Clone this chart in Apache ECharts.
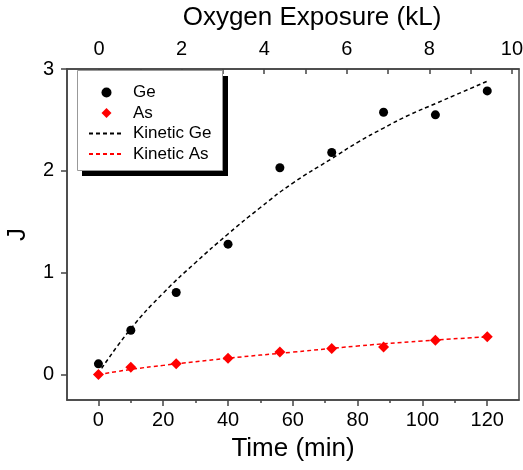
<!DOCTYPE html>
<html style="height: 100%">
<head>
	<meta charset="utf-8">
</head>
<body style="height: 100%; margin: 0; background: #fff">
<div id="container" style="width: 523px; height: 470px"></div>
<script type="text/javascript" src="https://cdn.jsdelivr.net/npm/echarts@6/dist/echarts.min.js"></script>
<script type="text/javascript">
    // measured points (time in min, J)
    var timeMin = [0, 10, 24, 40, 56, 72, 88, 104, 120];
    var geJ = [0.105, 0.435, 0.805, 1.28, 2.03, 2.18, 2.575, 2.55, 2.785];
    var asJ = [0.0, 0.072, 0.105, 0.16, 0.222, 0.255, 0.27, 0.336, 0.37];

    // kinetic fit lines
    var fitTimeGe = [1, 10, 20, 30, 40, 50, 60, 72, 80, 88, 96, 104, 112, 120];
    var fitGe = [0.06, 0.45, 0.80, 1.10, 1.38, 1.64, 1.88, 2.12, 2.28, 2.42, 2.55, 2.66, 2.77, 2.88];
    var fitTimeAs = [0, 10, 20, 40, 60, 80, 100, 120];
    var fitAs = [0.0, 0.05, 0.09, 0.16, 0.22, 0.28, 0.33, 0.37];

    // tick positions and labels
    var timeTicks = [0, 20, 40, 60, 80, 100, 120];
    var timeMinorTicks = [10, 30, 50, 70, 90, 110];
    var exposureTicks = [0, 1, 2, 3, 4, 5, 6, 7, 8, 9, 10];
    var exposureLabels = [0, 2, 4, 6, 8, 10];
    var jTicks = [0, 1, 2, 3];

    var font = 'Liberation Sans, Arial, sans-serif';
    var axisColor = '#444';

    function zip(xs, ys) {
        var res = [];
        for (var i = 0; i < xs.length; i++) {
            res.push([xs[i], ys[i]]);
        }
        return res;
    }

    var dom = document.getElementById("container");
    var myChart = echarts.init(dom);

    var option = {
        backgroundColor: '#fff',
        animation: false,
        textStyle: {fontFamily: font},
        grid: {
            left: 67,
            right: 4,
            top: 69,
            bottom: 70,
            outerBoundsMode: 'none',
            containLabel: false,
            show: true,
            borderColor: axisColor,
            borderWidth: 1.5
        },
        // legend frame with its hard drop shadow
        graphic: [
            {
                type: 'rect',
                z: 5,
                shape: {x: 82, y: 76, width: 146, height: 100},
                style: {fill: '#000'}
            },
            {
                type: 'rect',
                z: 6,
                shape: {x: 77.5, y: 70.5, width: 145, height: 100},
                style: {fill: '#fff', stroke: '#999', lineWidth: 1}
            }
        ],
        legend: {
            left: 77,
            top: 72,
            z: 10,
            orient: 'vertical',
            data: [
                {name: 'Ge', icon: 'circle'},
                {name: 'As', icon: 'path://M0,-1L1,0L0,1L-1,0Z'},
                {name: 'Kinetic Ge', itemStyle: {opacity: 0}},
                {name: 'Kinetic As', itemStyle: {opacity: 0}}
            ],
            itemWidth: 35,
            itemHeight: 10,
            itemGap: 3.5,
            symbolKeepAspect: true,
            padding: [12, 10, 8, 11],
            textStyle: {
                fontFamily: font,
                fontSize: 17,
                lineHeight: 17,
                color: '#000',
                padding: [0, 0, 0, 4]
            }
        },
        xAxis: [
            {
                type: 'value',
                position: 'bottom',
                min: -9.7,
                max: 129.8,
                name: 'Time (min)',
                nameLocation: 'middle',
                nameGap: 36,
                nameTextStyle: {fontFamily: font, fontSize: 26, color: '#000'},
                axisLine: {show: true, onZero: false, lineStyle: {color: axisColor, width: 1.5}},
                axisTick: {show: true, inside: false, length: 6, customValues: timeTicks,
                    lineStyle: {color: axisColor, width: 1.5}},
                axisLabel: {customValues: timeTicks, margin: 10, fontSize: 20, color: '#000', fontFamily: font},
                splitLine: {show: false}
            },
            {
                type: 'value',
                position: 'top',
                min: -0.775,
                max: 10.17,
                name: 'Oxygen Exposure (kL)',
                nameLocation: 'middle',
                nameGap: 38,
                nameTextStyle: {fontFamily: font, fontSize: 26, color: '#000', padding: [0, 0, 0, 38]},
                axisLine: {show: true, onZero: false, lineStyle: {color: axisColor, width: 1.5}},
                axisTick: {show: true, inside: true, length: 5, customValues: exposureTicks,
                    lineStyle: {color: axisColor, width: 1.5}},
                axisLabel: {customValues: exposureLabels, margin: 10, fontSize: 20, color: '#000', fontFamily: font},
                splitLine: {show: false}
            },
            {
                type: 'value',
                position: 'bottom',
                min: -9.7,
                max: 129.8,
                axisLine: {show: false, onZero: false},
                axisTick: {show: true, inside: false, length: 3, customValues: timeMinorTicks,
                    lineStyle: {color: axisColor, width: 1.5}},
                axisLabel: {show: false},
                splitLine: {show: false}
            }
        ],
        yAxis: {
            type: 'value',
            min: -0.25,
            max: 3,
            name: 'J',
            nameLocation: 'middle',
            nameGap: 36,
            nameTextStyle: {fontFamily: font, fontSize: 26, color: '#000'},
            axisLine: {show: true, onZero: false, lineStyle: {color: axisColor, width: 1.5}},
            axisTick: {show: true, inside: false, length: 6, customValues: jTicks,
                lineStyle: {color: axisColor, width: 1.5}},
            axisLabel: {customValues: jTicks, margin: 13, fontSize: 20, color: '#000', fontFamily: font},
            splitLine: {show: false}
        },
        series: [
            {
                name: 'Ge',
                type: 'scatter',
                data: zip(timeMin, geJ),
                symbol: 'circle',
                symbolSize: 9,
                itemStyle: {color: '#000', opacity: 1},
                z: 5
            },
            {
                name: 'As',
                type: 'scatter',
                data: zip(timeMin, asJ),
                symbol: 'diamond',
                symbolSize: 11,
                itemStyle: {color: '#ff0000', opacity: 1},
                z: 5
            },
            {
                name: 'Kinetic Ge',
                type: 'line',
                data: zip(fitTimeGe, fitGe),
                smooth: true,
                symbol: 'none',
                itemStyle: {color: '#000'},
                lineStyle: {color: '#000', width: 1.5, type: [4, 3]},
                z: 3
            },
            {
                name: 'Kinetic As',
                type: 'line',
                data: zip(fitTimeAs, fitAs),
                smooth: true,
                symbol: 'none',
                itemStyle: {color: '#ff0000'},
                lineStyle: {color: '#ff0000', width: 1.5, type: [4, 3]},
                z: 3
            }
        ]
    };

    myChart.setOption(option);

    window.addEventListener('resize', function () {
        myChart.resize();
    });
</script>
</body>
</html>
